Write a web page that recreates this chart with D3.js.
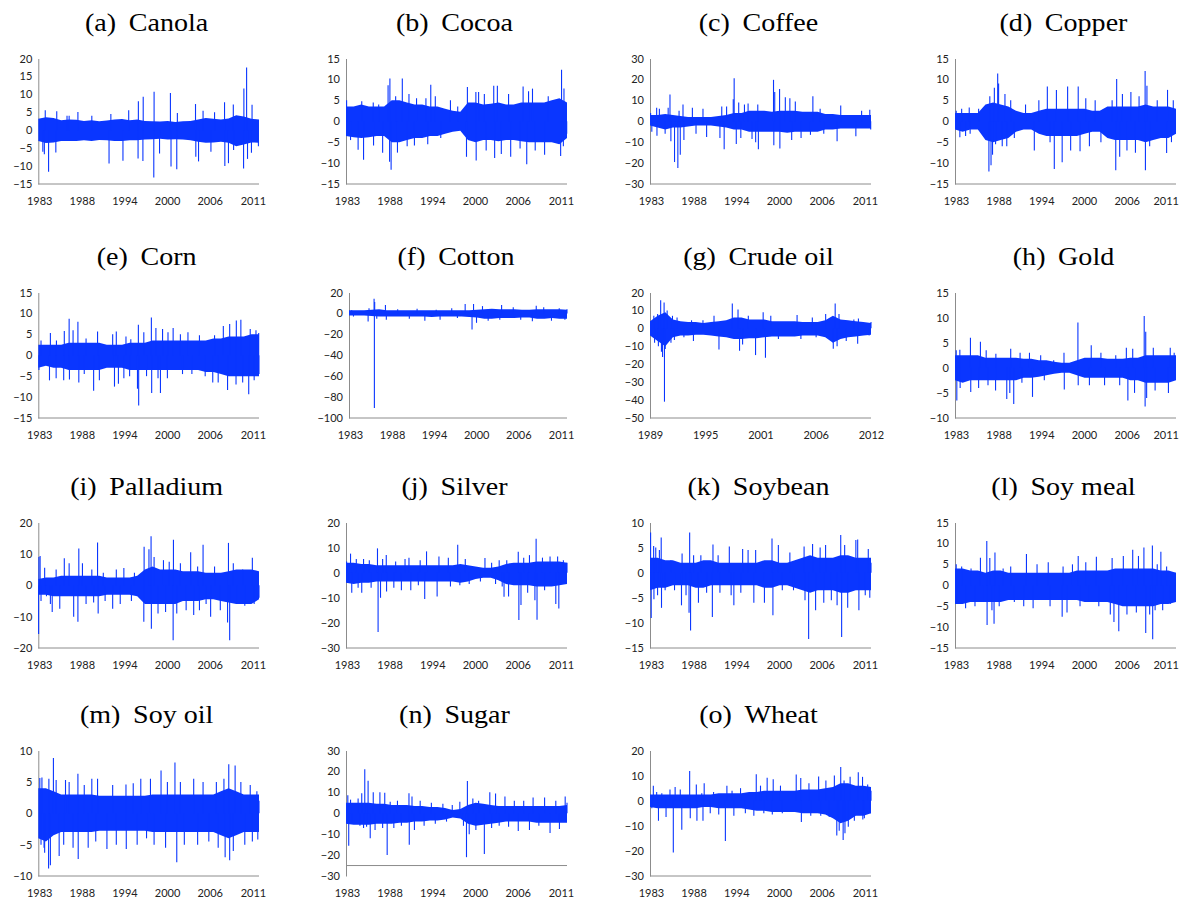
<!DOCTYPE html>
<html><head><meta charset="utf-8">
<script src="https://cdn.jsdelivr.net/npm/d3@7"></script>
<style>body{margin:0;background:#fff}svg{display:block}</style>
</head><body><svg id="c" width="1180" height="898"></svg>
<script>
// ---------- x axis (observation index, thousands of trading days) ----------
const yearsMain = ["1983","1988","1994","2000","2006","2011"];
const tickObsMain = [0.03,1.44,2.85,4.26,5.67,7.1];
const nObsMain = 7.3;
const yearsOil = ["1989","1995","2001","2006","2012"];
const tickObsOil = [0,1.45,2.9,4.35,5.8];
const nObsOil = 5.8;

// ---------- series: core band (evenly spaced) + spikes [obs(k), return %] ----------
const canolaHi=[3.2,3.6,3.4,2.8,3,2.9,2.6,2.8,2.5,2.7,3,3.1,2.8,3,2.6,2.5,2.4,2.6,2.3,2.5,2.6,3,3.4,3.2,3,3.3,4.2,3.8,3.2,3];
const canolaLo=[-3,-3.6,-3.4,-3,-3,-3,-2.8,-3,-2.7,-2.8,-3,-3,-2.8,-2.8,-2.6,-2.5,-2.4,-2.6,-2.5,-2.6,-2.8,-3.2,-3.5,-3.4,-3.2,-3.5,-4.5,-4,-3.4,-3.5];
const canolaSpikes=[[0.15,-6],[0.2,-6.7],[0.23,5.6],[0.34,-11.6],[0.58,-6.2],[0.61,5.3],[0.95,4],[1.02,4],[1.31,5.1],[1.77,4],[2.34,-9.3],[2.4,4.5],[2.8,-8.5],[2.99,5.6],[3.31,8.1],[3.3,-7.9],[3.47,9.3],[3.46,-8.6],[3.82,-13.2],[3.83,10.7],[4.01,-6.5],[4.37,10.4],[4.39,-10.1],[4.58,-10.9],[4.6,4.8],[5.2,7.3],[5.21,-7.4],[5.3,-8.7],[5.45,5.4],[5.71,-6],[5.83,5],[6.16,7.8],[6.17,-10],[6.29,-9.2],[6.45,7.2],[6.46,-5.5],[6.79,-10.7],[6.8,11.6],[6.89,17.5],[6.92,-8],[7.05,-6.3],[7.07,7.1],[7.28,-4.5]];

const cocoaHi=[3.5,3.5,4,3.5,3.5,3.5,5,5,4.5,4,4,3.5,3.5,3,2.5,2.3,4.5,4.5,4,4.2,4.5,4,4,4.5,4.5,4.5,4.5,5,5.5,4.5];
const cocoaLo=[-3.5,-3.8,-4,-3.8,-3.5,-3.5,-5,-5,-4.5,-4,-4,-3.5,-3.5,-3,-2.5,-2.3,-4.5,-5,-4.5,-4.5,-4.8,-4.5,-4.5,-4.8,-5,-5,-5,-5,-5.5,-4];
const cocoaSpikes=[[0.02,5],[0.15,-4.5],[0.4,-6.8],[0.52,4.8],[0.58,-9.2],[0.9,4.5],[0.91,-5.8],[1.08,4],[1.21,-7.5],[1.39,8.6],[1.45,10.2],[1.44,-9.7],[1.49,-11.6],[1.64,6],[1.7,-7.5],[1.86,10.2],[2.02,-6],[2.08,6.5],[2.26,-5.8],[2.33,5.5],[2.64,5.5],[2.7,-5.5],[2.8,8.7],[2.95,6],[3.13,-4],[3.45,5],[3.69,3.5],[3.98,-8.5],[4.01,8.2],[4.29,7],[4.3,-9.4],[4.38,7],[4.57,6.5],[4.63,-7],[4.88,8.5],[4.91,-8.8],[5,8.5],[5.13,-7.8],[5.37,6.5],[5.44,-8.5],[5.75,-6.5],[5.85,8.3],[5.97,-10.3],[6.03,7.2],[6.16,7.8],[6.25,-7],[6.56,-8],[6.68,6],[7.09,-8.3],[7.12,12.3],[7.18,-6],[7.2,7.8],[7.28,4],[7.29,-3]];

const coffeeHi=[3,3,3.5,3,2.5,2,2,2,2,2.5,3,4,4,5,5,5,4.5,5,5,5,4.5,4.5,4.5,3.5,3.5,3,3,3,3,3];
const coffeeLo=[-2,-3,-4,-3,-3,-2.5,-2,-2,-2,-2.5,-3,-4,-4,-5,-5,-5,-5,-5,-5.5,-5,-5,-5,-5,-4,-4,-3.5,-3.5,-3.5,-3.5,-3.5];
const coffeeSpikes=[[0.02,4],[0.06,-5],[0.22,6.4],[0.23,-6.9],[0.31,6],[0.5,-6],[0.6,6.5],[0.66,12.8],[0.69,-9.6],[0.81,-19.5],[0.92,-22.4],[0.96,5],[1,-16],[1.09,8],[1.12,-9],[1.4,6.4],[1.52,-6],[1.75,6],[1.87,-7.5],[2.31,-8],[2.37,7],[2.45,-13.4],[2.53,7],[2.75,10.5],[2.78,20.6],[2.85,-10.9],[2.93,9],[3,-8],[3.12,8],[3.24,8.5],[3.37,-8.5],[3.49,-10],[3.56,8],[3.58,-13.4],[4.08,19.8],[4.09,-11.5],[4.12,14],[4.28,15.4],[4.29,-13],[4.47,11.5],[4.62,11],[4.68,-9],[4.8,9.5],[4.99,-8],[5.3,-6.5],[5.38,12],[5.62,6],[5.74,-6],[6.18,-9.6],[6.3,7.5],[6.8,-7.2],[6.99,5],[7.26,5.5],[7.29,-4]];

const copperHi=[2,2,2,2,4,4.5,4,3.5,2.5,2,2,2.5,3,3,3,3,3,3,2.5,2.5,3.5,3.5,3.5,3.5,3.5,4,3.5,3.5,3.5,3];
const copperLo=[-2,-2.5,-2,-2,-4.5,-5,-4.5,-4,-2.5,-2,-2,-3,-3.5,-3.5,-3.5,-3.5,-3.5,-3,-2.5,-2.5,-4,-4.5,-4.5,-4.5,-4.5,-5,-4.5,-4,-4,-3];
const copperSpikes=[[0.04,2.5],[0.16,-3.8],[0.22,3],[0.35,-3.5],[0.47,3.3],[0.5,-3],[0.78,3],[1.12,-12],[1.15,6],[1.19,-10.5],[1.24,-8],[1.3,8],[1.34,-5.5],[1.41,11.4],[1.44,9],[1.56,-6],[1.65,6.5],[1.71,-6],[1.84,5],[1.96,-4],[2.33,4],[2.62,-7],[2.77,5],[3.05,8.3],[3.14,-5],[3.28,-11.4],[3.35,7.5],[3.54,-9.8],[3.72,8.3],[3.82,-7],[4.07,8.3],[4.13,-7.2],[4.32,5.5],[4.44,-6],[4.63,5],[4.82,-5],[5.19,5],[5.31,-11.7],[5.34,10.1],[5.44,-8.5],[5.53,6.5],[5.68,-7],[5.81,7],[5.96,-7.5],[6.08,6],[6.28,12],[6.29,-11.7],[6.34,8.5],[6.43,-6],[6.68,5],[6.99,-7.6],[7.02,7.5],[7.15,-5],[7.21,5],[7.27,-3]];

const cornHi=[2.5,2.5,2.5,2.5,3,3,3,3,3,2.5,2.5,2.5,3,3,3,3.5,3.5,3.5,3.5,3.5,3.5,3.5,3.5,4,4,4.5,4.5,4.5,5,5];
const cornLo=[-3,-2.5,-3,-3,-3.5,-3.5,-3.5,-3.5,-3.5,-3,-3,-3,-3.5,-3.5,-3.5,-3.5,-3.5,-3.5,-3.5,-3.5,-3.5,-3.5,-4,-4,-4.5,-5,-5,-5,-5,-5];
const cornSpikes=[[0.02,-3.5],[0.09,3.5],[0.37,-6],[0.4,5.3],[0.59,-5.5],[0.6,3.5],[0.84,-6],[0.86,5.8],[1.02,8.7],[1.03,-5.8],[1.15,6],[1.31,8],[1.34,-6.5],[1.52,-4.5],[1.58,4],[1.83,-8.5],[1.96,5.7],[2.02,-6],[2.46,5],[2.52,-7.5],[2.58,5.7],[2.65,-6.8],[2.83,-5.5],[2.9,4.5],[3.02,-5],[3.06,3.8],[3.28,-8],[3.31,7.3],[3.32,-12],[3.49,5.5],[3.58,-5],[3.74,9],[3.75,-9],[3.89,6.5],[3.96,-5.5],[4.04,-9],[4.11,6.3],[4.27,-5.5],[4.29,5.5],[4.46,6.5],[4.7,5],[4.77,-4.5],[4.95,5.5],[5.08,-4.5],[5.33,4.8],[5.52,-5],[5.77,-6.5],[5.83,4.8],[5.95,-6.5],[6.12,7],[6.26,-8.3],[6.33,7.5],[6.54,-7],[6.55,8.3],[6.7,8.5],[6.76,-6.5],[6.96,-9.3],[7.01,6.3],[7.14,-6],[7.2,6],[7.29,5.3],[7.3,-4.5]];

const cottonHi=[3,3,3,3.5,4,3,3,3,3,3,3,3,3,3,3,3,3,3.5,4,4.5,4,4,4,3.5,3.5,4,4,4,4,3.5];
const cottonLo=[-2,-2,-2,-2.5,-3,-3,-3,-3,-3,-3,-3,-3.5,-3,-3,-3,-3,-3.5,-4,-5,-5,-4.5,-4.5,-4.5,-4,-4,-5,-5,-4.5,-5,-5];
const cottonSpikes=[[0.09,3],[0.15,-3],[0.64,-7.7],[0.67,5],[0.84,14.1],[0.85,-90.4],[0.86,11],[0.93,-5],[1.22,8],[1.25,-6],[1.63,4],[2.02,-5],[2.28,4.5],[2.54,-7],[2.92,3.5],[3.05,-6],[3.44,5],[3.63,-4.5],[3.89,9],[4.12,-15.4],[4.17,9],[4.27,-9],[4.47,7],[4.66,-7],[5.05,-6],[5.11,8],[5.5,6],[5.75,-6],[6.14,-7.5],[6.27,7.4],[6.52,6],[6.78,-7],[7.04,5],[7.23,-6],[7.3,4]];

const crudeHi=[4,7,9,5,4,3.5,3.5,3,3.5,4,4.5,6,6,5,5,5,4,4,4,4,3.5,3.5,3.5,4.5,7,5,4.5,4,3.5,3];
const crudeLo=[-4,-7,-10,-5,-4,-4,-3.5,-3.5,-4,-4.5,-5,-6,-6,-5.5,-5.5,-5,-4.5,-4.5,-4.5,-4.5,-4,-4,-4,-5,-8,-6,-5,-4.5,-4,-3.5];
const crudeSpikes=[[0.1,7],[0.12,-8],[0.2,8],[0.22,-10],[0.28,15.7],[0.3,-13],[0.33,-16],[0.37,14.4],[0.38,-40.9],[0.4,-11.5],[0.45,10],[0.55,-8],[0.59,7],[0.64,-6.5],[0.71,6],[0.89,-5],[1.09,4.5],[1.14,-7.1],[1.39,4.5],[1.68,7],[1.81,-11.8],[2.16,13.8],[2.31,10.5],[2.35,-12.5],[2.43,-9],[2.58,7],[2.77,-14.9],[2.97,9],[3.03,-16.4],[3.17,7],[3.37,-6],[3.86,7.5],[3.96,-6],[4.26,6],[4.36,-5],[4.61,8],[4.81,-11.4],[4.86,13.8],[4.91,-10],[4.96,8],[5.15,-7],[5.35,5],[5.45,-8.6],[5.47,5.5],[5.75,-4],[5.8,3.5]];

const goldHi=[2.5,2.5,2.5,2.5,2,2,2,2,2,1.8,1.8,1.5,1.5,1.2,1,1,1.5,2,2,2,1.8,1.8,1.8,2,2,2.5,2.5,2.5,2.5,2.5];
const goldLo=[-2.5,-3,-2.5,-2.5,-2.5,-2.5,-2.5,-2.5,-2.5,-2,-2,-1.8,-1.5,-1.2,-1,-1,-1.5,-2,-2,-2,-2,-2,-2,-2.5,-2.5,-3,-3,-3,-3,-2.5];
const goldSpikes=[[0.04,3.5],[0.06,-6.5],[0.16,3.6],[0.17,-4],[0.51,6],[0.52,-4.8],[0.78,-4],[0.84,5.2],[1.03,3.5],[1.09,-3.5],[1.34,-4.5],[1.35,2.8],[1.71,-6.2],[1.81,-5],[1.84,3.8],[1.94,-7.2],[2.15,3],[2.21,-3],[2.46,3],[2.56,-5.8],[2.83,2.5],[2.95,-2.5],[3.26,1.5],[3.6,3],[3.61,-4.3],[4.06,9],[4.07,-3.5],[4.44,-3.5],[4.5,4.5],[4.82,3],[4.94,-3.5],[5.31,2.5],[5.44,-3.5],[5.66,4],[5.71,-6.5],[5.87,3.8],[5.93,-5],[6.25,10.3],[6.28,-7.7],[6.3,7.2],[6.33,-6],[6.55,4],[6.61,-4.5],[7.05,-5],[7.11,4],[7.24,3],[7.27,-2]];

const palladiumHi=[2,2.5,2.5,3,3,3,3,3,3,2.5,2.5,2.5,2.5,3,5,6,5,5,5,4.5,4.5,4.5,4,4,4,4.5,5,5,5,4.5];
const palladiumLo=[-3,-3,-3.5,-3.5,-3.5,-3.5,-3.5,-3.5,-3.5,-3,-3,-3,-3,-3.5,-6,-6,-6,-6,-6,-5,-5,-5,-4.5,-4.5,-5,-5.5,-6,-6,-6,-4.5];
const palladiumSpikes=[[0.01,-15.5],[0.02,9],[0.06,9.3],[0.09,-5],[0.21,5.6],[0.27,-3.5],[0.4,-6],[0.46,-8.5],[0.59,5],[0.71,-7.5],[0.86,8.6],[1.02,7],[1.17,-10],[1.31,-11.6],[1.34,11.7],[1.46,7],[1.58,-6],[1.77,5],[1.83,-5.5],[1.96,13.6],[1.98,-9],[2.15,4],[2.21,-5],[2.46,-7.5],[2.58,5],[2.71,-6],[2.83,5.5],[3.08,-5],[3.18,4],[3.49,-11.6],[3.5,12.3],[3.66,11.5],[3.73,15.6],[3.74,-13.9],[3.83,9],[3.96,-9],[4.14,8],[4.21,-8.5],[4.33,7.5],[4.46,-17.5],[4.47,14.5],[4.58,-9],[4.7,7],[4.89,-8],[5.04,10.5],[5.14,-9.5],[5.27,6],[5.33,-8],[5.45,12.9],[5.55,-6],[5.7,-10],[5.83,6],[6.02,-8],[6.26,-11.9],[6.29,13.5],[6.33,-17.5],[6.45,7],[6.58,-6],[6.76,5],[6.83,-6.5],[7.08,8.8],[7.14,-6],[7.26,4],[7.3,-4]];

const silverHi=[4,4,3.5,3.5,3,3,3,3,3,3,3,3,3,3,3,3.5,3,2.5,2,2,2.5,3.5,4,4,4,4.5,4.5,4.5,4.5,4];
const silverLo=[-4,-4.5,-4,-4,-3.5,-3.5,-3.5,-3.5,-3.5,-3.5,-3.5,-3.5,-3.5,-3.5,-3.5,-4,-3.5,-2.5,-2,-2,-3,-4.5,-5,-5,-5,-5.5,-5.5,-5.5,-5,-4.5];
const silverSpikes=[[0.02,4.5],[0.05,-4],[0.15,7.6],[0.19,-8],[0.34,5.5],[0.4,-6],[0.52,-8],[0.58,5.5],[0.77,5],[0.83,-6],[1.04,9.7],[1.06,-23.6],[1.14,-10],[1.21,5.5],[1.33,7.1],[1.34,-7.5],[1.58,-6],[1.64,4.5],[1.83,-7],[1.95,5.5],[2.08,6],[2.14,-7],[2.39,-5],[2.45,5],[2.6,-10.5],[2.66,8.5],[3.01,-9.5],[3.07,6.5],[3.38,6],[3.45,-5.5],[3.69,11.1],[3.76,-5],[3.94,5.5],[4.07,-4.5],[4.44,-3.5],[4.59,5.9],[4.81,4],[4.94,-4.5],[5.06,5],[5.16,-5.5],[5.22,-9.6],[5.31,5],[5.37,-9.5],[5.69,8.3],[5.71,-18.8],[5.78,-12.9],[5.87,6],[6,-8],[6.06,7],[6.24,-11],[6.28,13.5],[6.31,-18.7],[6.49,6],[6.56,-7],[6.74,6.5],[6.93,-12.5],[6.99,6.5],[7.03,-14.3],[7.18,5],[7.28,-3],[7.3,4]];

const soybeanHi=[3,3,2.5,2.5,2,2,2,2.5,2.5,2,2,2,2,2,2,2.5,2.5,2,2,2.5,3,3.5,3,3,3,3.5,3.5,3,3,3];
const soybeanLo=[-3.5,-3,-3,-2.5,-2.5,-2.5,-3,-3,-2.5,-2.5,-2.5,-2.5,-2.5,-2.5,-2.5,-3,-3,-2.5,-2.5,-3,-3.5,-4,-3.5,-3.5,-3.5,-4,-4,-3.5,-3.5,-3.5];
const soybeanSpikes=[[0.02,8],[0.04,-9],[0.12,5.3],[0.13,-5.3],[0.19,5],[0.25,-4.5],[0.31,4.5],[0.37,7],[0.38,-7],[0.5,-3.5],[0.69,2.5],[0.81,-3.5],[1.04,-6.5],[1.06,3.8],[1.19,-4.5],[1.29,-8],[1.31,8],[1.34,-11.5],[1.44,3.5],[1.6,-6],[1.68,3.5],[1.87,-4],[2.06,-8.8],[2.08,5.6],[2.25,3.5],[2.31,-4],[2.62,5.2],[2.68,-4.5],[2.77,-6.5],[3,-4],[3.06,4.7],[3.24,4.5],[3.43,-6],[3.49,4.5],[3.78,-6],[4.03,6.8],[4.06,-8.5],[4.24,5.5],[4.37,-3.5],[4.62,4],[4.74,-3.5],[5.09,5.2],[5.12,-5.5],[5.24,-13.2],[5.37,5.7],[5.47,-7.5],[5.62,5],[5.74,-6],[5.8,5.5],[5.99,-5.5],[6.18,-6.5],[6.3,7.5],[6.33,-12.8],[6.43,5.5],[6.53,-7],[6.8,6.5],[6.86,6.6],[6.9,-7.5],[7.11,-4.5],[7.21,4.7],[7.26,-5],[7.3,2]];

const soymealHi=[4,4,3.5,3.5,3,3.5,3.5,3,3,3,3,3,3,3,3,3,3.5,3.5,3.5,3.5,3.5,4,4,4,4,4,4,3.5,3.5,3];
const soymealLo=[-4.5,-4.5,-4,-4,-4,-4,-4,-3.5,-3.5,-3.5,-3.5,-3.5,-3.5,-3.5,-3.5,-3.5,-3.5,-4,-4,-4,-4,-4.5,-5,-5,-5,-5,-5,-4.5,-4.5,-4];
const soymealSpikes=[[0.04,5],[0.06,-4.5],[0.22,4.5],[0.35,-5.5],[0.53,4],[0.66,-5],[0.84,6.6],[0.91,-4],[1.05,10.6],[1.06,-9.5],[1.15,6.5],[1.22,-6],[1.29,-9.2],[1.32,7.8],[1.46,-5],[1.59,4],[1.84,4.5],[1.96,-4],[2.27,-5],[2.36,7.5],[2.58,-5.5],[2.71,5],[3.08,5.5],[3.14,-5],[3.54,-7.5],[3.57,4.5],[3.7,-6.5],[3.88,5],[4.07,7],[4.13,-5],[4.32,5.5],[4.44,-4],[4.67,6.8],[4.75,-5],[5.13,-7],[5.19,6.5],[5.25,-8.8],[5.41,-11],[5.56,7],[5.68,-7],[5.87,8.5],[5.99,-6.5],[6.06,7],[6.24,9],[6.3,-11.4],[6.43,-7],[6.52,9.5],[6.53,-12.9],[6.61,-6],[6.68,5],[6.8,8],[6.86,-6],[6.99,4.5],[7.11,-4.5],[7.24,-4],[7.27,3]];

const soyoilHi=[4,4,3.5,3,3,3,3,3,2.8,2.8,2.8,2.8,2.8,2.8,2.8,3,3,3,3,3,3,3,3,3,3.5,4,3.5,3,3,3];
const soyoilLo=[-4,-4.5,-3.5,-3,-3,-3,-3,-3,-2.8,-2.8,-2.8,-2.8,-2.8,-2.8,-2.8,-3,-3,-3,-3,-3,-3,-3,-3,-3,-3.5,-4,-3.5,-3,-3,-3];
const soyoilSpikes=[[0.05,5.6],[0.09,-5],[0.12,5.7],[0.19,-5.5],[0.21,-6.3],[0.34,-8.8],[0.35,5.5],[0.4,-8.3],[0.5,8.8],[0.59,5.3],[0.69,-6.8],[0.84,-5],[0.9,5.3],[1.02,5],[1.15,-5.5],[1.31,6.3],[1.32,-7.3],[1.52,4.5],[1.65,-5.5],[1.77,5.5],[1.9,-4.5],[1.96,5.5],[2.27,-5.7],[2.46,4.5],[2.58,-5],[2.9,4.6],[2.91,-5.7],[3.14,4.8],[3.27,-5],[3.39,5.5],[3.58,-4],[3.71,5.5],[3.83,-5],[4.06,6.8],[4.21,-5.5],[4.27,5],[4.52,8.1],[4.58,-7.8],[4.7,5],[4.83,-5],[5.14,5.5],[5.27,-5],[5.45,5],[5.64,-4.5],[5.89,5],[5.95,-5.5],[6.14,5.5],[6.18,-7],[6.3,7.8],[6.33,-7.5],[6.45,-6],[6.51,7.6],[6.7,5],[6.83,-5],[7.01,4.5],[7.08,-4.5],[7.23,3.5],[7.26,-4.2],[7.3,2]];

const sugarHi=[5,5,5,5,4.5,4.5,4,4,4,3.5,3.5,3,3,2.5,1.5,2,4,5,4.5,4,3.5,3.5,3.5,3.5,3.5,3.5,3.5,3.5,3.5,4];
const sugarLo=[-5,-5.5,-5.5,-5.5,-5,-5,-5,-4.5,-4.5,-4,-4,-3.5,-3.5,-3,-2,-2.5,-5,-6,-5.5,-5,-4.5,-4,-4,-4,-4,-4.5,-4.5,-4.5,-4.5,-4.5];
const sugarSpikes=[[0.06,8.6],[0.09,-15.5],[0.15,6.5],[0.21,-5],[0.4,7],[0.46,-6],[0.52,9.6],[0.58,-7],[0.62,21],[0.68,-6.5],[0.73,15.5],[0.8,-12],[0.9,10],[0.96,-8],[1.12,10],[1.21,-7],[1.28,9.8],[1.36,-20],[1.46,5.5],[1.58,-7],[1.7,6],[1.83,-6],[2.08,9.6],[2.09,-15],[2.18,8],[2.26,-8],[2.45,6],[2.58,-6],[2.82,5],[2.95,-5],[3.2,4.5],[3.32,-4],[3.51,4],[3.76,5.5],[3.88,-6],[3.98,-21],[4.01,15.4],[4.07,-10],[4.19,7],[4.29,-8],[4.38,6],[4.57,-19.5],[4.75,10],[4.81,-7],[4.94,9.5],[5.06,-6],[5.25,8],[5.37,-6.5],[5.56,6],[5.69,-8.5],[5.87,6],[6.06,-8],[6.18,7.5],[6.37,-6],[6.56,7.5],[6.74,-9.4],[6.93,6],[7.05,-7.5],[7.24,8],[7.28,-4],[7.3,5]];

const wheatHi=[2.5,2.5,2.5,2.5,2.5,2.5,2.5,2.5,2.5,3,3,3,3,3.5,3.5,4,4,4,4,4,4.5,4.5,4.5,5,5.5,7,7,6,6,5.5];
const wheatLo=[-2.5,-3,-3,-3,-3,-3,-3,-2.5,-2.5,-3,-3,-3,-3,-3.5,-4,-4,-4.5,-4.5,-4.5,-4.5,-5,-5,-5,-5.5,-7,-9,-8,-6,-6,-5];
const wheatSpikes=[[0.06,-3],[0.11,6],[0.22,3.5],[0.28,-8],[0.39,3],[0.53,-6.5],[0.66,4.5],[0.77,-20.6],[0.83,5.5],[1,4.5],[1.05,-11.6],[1.31,11.8],[1.33,-7],[1.53,6.5],[1.55,-8],[1.71,3],[1.75,-8],[1.79,7],[1.99,-5],[2.1,3.5],[2.27,-5.5],[2.49,-16.1],[2.54,6],[2.71,4],[2.77,-6],[2.99,5],[3.15,-5],[3.43,-6],[3.51,10.5],[3.65,6],[3.76,-5],[3.87,9.1],[4.04,-5.5],[4.07,8.5],[4.31,6],[4.37,-5],[4.83,10.4],[4.98,9],[5,-8.5],[5.25,7],[5.31,-6],[5.57,9.6],[5.64,-6],[5.81,8],[5.92,-6.5],[6.09,10],[6.17,-13.9],[6.25,-12],[6.3,13.4],[6.38,-15.7],[6.41,8],[6.44,-13],[6.55,-10.4],[6.61,9.5],[6.75,-8],[6.88,11.3],[7.02,9.5],[7.03,-7.5],[7.08,-7],[7.19,6.5],[7.28,-5],[7.3,4]];

const titles=["(a) Canola","(b) Cocoa","(c) Coffee","(d) Copper","(e) Corn","(f) Cotton","(g) Crude oil","(h) Gold","(i) Palladium","(j) Silver","(k) Soybean","(l) Soy meal","(m) Soy oil","(n) Sugar","(o) Wheat"];
const yDomains=[[-15,20],[-15,15],[-30,30],[-15,15],[-15,15],[-100,20],[-50,20],[-10,15],[-20,20],[-30,20],[-15,10],[-15,15],[-10,10],[-30,30],[-30,20]];
const ySteps=[5,5,10,5,5,20,10,5,10,10,5,5,5,10,10];
const xCross=[null,null,null,null,null,null,null,null,null,null,null,null,null,-25,null];

const series=[
 [canolaHi,canolaLo,canolaSpikes],[cocoaHi,cocoaLo,cocoaSpikes],[coffeeHi,coffeeLo,coffeeSpikes],[copperHi,copperLo,copperSpikes],
 [cornHi,cornLo,cornSpikes],[cottonHi,cottonLo,cottonSpikes],[crudeHi,crudeLo,crudeSpikes],[goldHi,goldLo,goldSpikes],
 [palladiumHi,palladiumLo,palladiumSpikes],[silverHi,silverLo,silverSpikes],[soybeanHi,soybeanLo,soybeanSpikes],[soymealHi,soymealLo,soymealSpikes],
 [soyoilHi,soyoilLo,soyoilSpikes],[sugarHi,sugarLo,sugarSpikes],[wheatHi,wheatLo,wheatSpikes]
];

// ---------- drawing ----------
const W=1180;
const svg=d3.select("#c");
const colAxis=[38.3,346,650,955], colRight=[259,567,871,1176];
const rowTop=[58.5,292.5,522.5,750.5], plotH=125.5;
const blue="#0a36ff", axisGray="#8c8c8c";

series.forEach((s,idx)=>{
  const [hi,lo,spikes]=s;
  const col=idx%4,row=Math.floor(idx/4);
  const isOil=idx===6;
  const n=isOil?nObsOil:nObsMain;
  const ticks=isOil?tickObsOil:tickObsMain;
  const labels=isOil?yearsOil:yearsMain;
  const dom=yDomains[idx];
  const yTicks=d3.range(dom[0],dom[1]+1e-6,ySteps[idx]);
  const maxLen=d3.max(yTicks,t=>String(t).length);
  const x0=colAxis[col]+Math.max(0,maxLen-3)*3;
  const x=d3.scaleLinear().domain([0,n]).range([x0,colRight[col]]);
  const y=d3.scaleLinear().domain(dom).range([rowTop[row]+plotH,rowTop[row]]);
  const g=svg.append("g");

  // title
  const t=g.append("text").attr("x",(x0+colRight[col])/2 - 2).attr("y",rowTop[row]-28)
    .attr("text-anchor","middle").attr("font-family","'Liberation Serif', 'Times New Roman', serif")
    .attr("font-size",25.5).attr("fill","#000").text(titles[idx].replace(" ","\u00a0\u2009"));
  const L=t.node().getComputedTextLength();
  t.attr("textLength",L*1.1).attr("lengthAdjust","spacingAndGlyphs");

  // y axis
  const ya=g.append("g").attr("transform",`translate(${x0},0)`)
    .call(d3.axisLeft(y).tickValues(yTicks).tickSize(0).tickSizeOuter(0).tickPadding(6));
  ya.select(".domain").attr("stroke",axisGray);
  ya.selectAll("text").attr("font-family","Lato, 'Open Sans', sans-serif").attr("font-size",11).attr("fill","#222");

  // x axis labels (bottom) + axis line at crossing value
  const xa=g.append("g").attr("transform",`translate(0,${rowTop[row]+plotH})`)
    .call(d3.axisBottom(x).tickValues(ticks).tickFormat((d,i)=>labels[i]).tickSize(0).tickPadding(13));
  xa.select(".domain").remove();
  xa.selectAll("text").attr("font-family","Lato, 'Open Sans', sans-serif").attr("font-size",11).attr("fill","#222")
    .each(function(){
      const b=this.getBBox();
      const tr=d3.select(this.parentNode).attr("transform");
      const tx=+tr.match(/translate\(([-\d.]+)/)[1];
      const over=tx+b.x+b.width-(W-1);
      if(over>0) d3.select(this).attr("dx",-over);
    });
  const cross=xCross[idx]===null?dom[0]:xCross[idx];
  g.append("line").attr("x1",x0).attr("x2",colRight[col]).attr("y1",y(cross)).attr("y2",y(cross))
    .attr("stroke",axisGray).attr("stroke-width",1);

  // core band
  const K=hi.length;
  const area=d3.area().x((d,i)=>x(i*n/(K-1))).y0((d,i)=>y(lo[i])).y1(d=>y(d));
  g.append("path").attr("d",area(hi)).attr("fill",blue);

  // spikes
  g.selectAll("line.spike").data(spikes).join("line").attr("class","spike")
    .attr("x1",d=>x(d[0])).attr("x2",d=>x(d[0]))
    .attr("y1",y(0)).attr("y2",d=>y(d[1]))
    .attr("stroke",blue).attr("stroke-width",1.1);
});
</script></body></html>
